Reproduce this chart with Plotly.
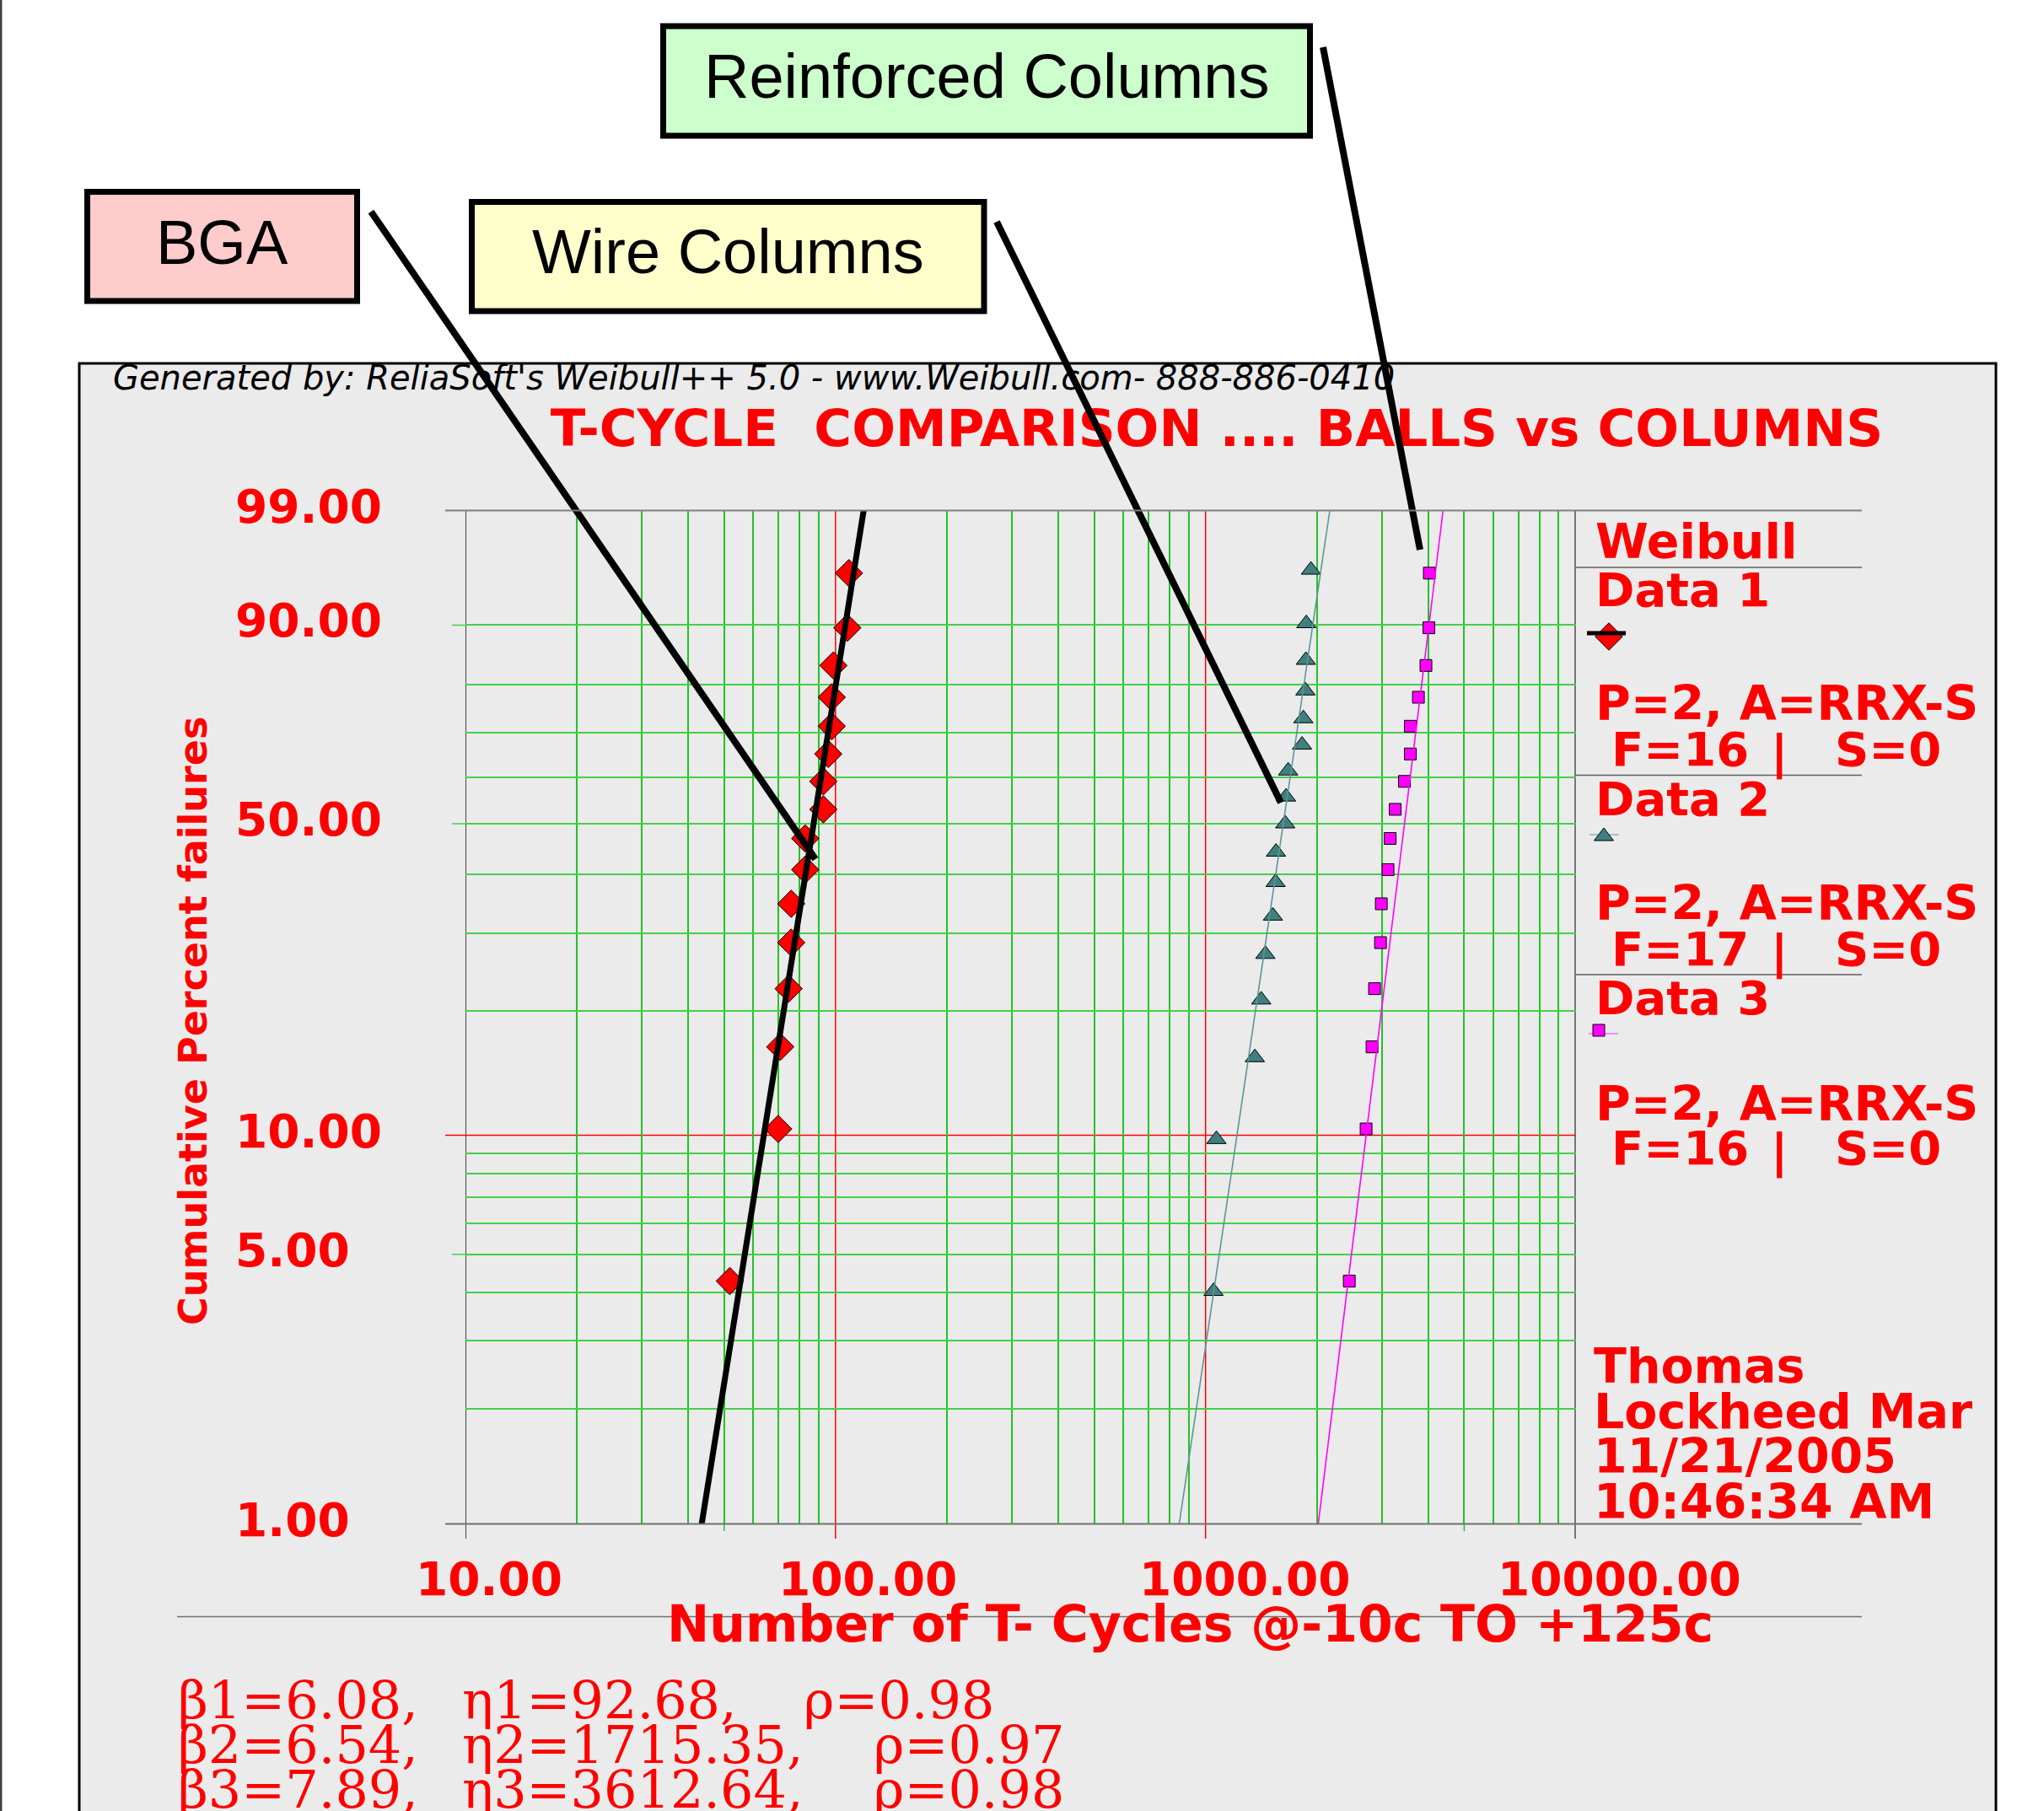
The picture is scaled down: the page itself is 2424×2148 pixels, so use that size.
import numpy as np
import plotly.graph_objects as go

W, H = 2424, 2148

# ---------------- data ----------------
bga_cycles = [51.8, 70.0, 70.9, 74.7, 75.9, 75.9, 82.8, 82.8, 92.7, 92.7,
              95.6, 97.7, 97.7, 98.7, 107.6, 108.7]
bga_pct = [4.27, 10.37, 16.46, 22.56, 28.66, 34.76, 40.85, 46.95, 53.05, 59.15,
           65.24, 71.34, 77.44, 83.54, 89.63, 95.73]

wire_cycles = [1051, 1070, 1359, 1414, 1451, 1521, 1546, 1550, 1642, 1650,
               1672, 1823, 1838, 1862, 1867, 1872, 1927]
wire_pct = [4.02, 9.77, 15.52, 21.26, 27.01, 32.76, 38.51, 44.25, 50.00, 55.75,
            61.49, 67.24, 72.99, 78.74, 84.48, 90.23, 95.98]

reinf_cycles = [2446, 2716, 2818, 2862, 2970, 2985, 3113, 3155, 3255, 3448,
                3577, 3577, 3760, 3941, 4014, 4025]
reinf_pct = [4.27, 10.37, 16.46, 22.56, 28.66, 34.76, 40.85, 46.95, 53.05, 59.15,
             65.24, 71.34, 77.44, 83.54, 89.63, 95.73]

series_names = ["Data 1", "Data 2", "Data 3"]
betas = [6.08, 6.54, 7.89]
etas = [92.68, 1715.35, 3612.64]
rhos = [0.98, 0.97, 0.98]
n_fail = [16, 17, 16]
n_susp = [0, 0, 0]

y_tick_pct = [99, 90, 50, 10, 5, 1]
y_tick_text = ["99.00", "90.00", "50.00", "10.00", "5.00", "1.00"]
x_tick_vals = [10, 100, 1000, 10000]
x_tick_text = ["10.00", "100.00", "1000.00", "10000.00"]
y_grid_pct = [2, 3, 4, 5, 6, 7, 8, 9, 20, 30, 40, 50, 60, 70, 80, 90]
x_grid_vals = [20, 30, 40, 50, 60, 70, 80, 90,
               200, 300, 400, 500, 600, 700, 800, 900,
               2000, 3000, 4000, 5000, 6000, 7000, 8000, 9000]
callout_labels = ["BGA", "Wire Columns", "Reinforced Columns"]
author_lines = ["Thomas", "Lockheed Mar", "11/21/2005", "10:46:34 AM"]


def wt(p):
    p = np.asarray(p, dtype=float) / 100.0
    return np.log(-np.log(1.0 - p))


def fit_x(beta, eta, pct):
    p = np.asarray(pct, dtype=float) / 100.0
    return eta * (-np.log(1.0 - p)) ** (1.0 / beta)


RED = "#ff0000"
GRID_V = "#22c422"
GRID_H = "#44d044"
TEAL = "#407f7f"
TEAL_L = "#5c9696"
MAG = "#ff00ff"

fig = go.Figure()

# ---------------- data traces ----------------
fig.add_trace(go.Scatter(x=bga_cycles, y=wt(bga_pct), mode="markers",
                         marker=dict(symbol="diamond", size=25, color=RED,
                                     line=dict(color="black", width=1)),
                         cliponaxis=False))
fig.add_trace(go.Scatter(x=wire_cycles, y=wt(wire_pct), mode="markers",
                         marker=dict(symbol="triangle-up", size=20, color=TEAL,
                                     line=dict(color="black", width=1)),
                         cliponaxis=False))
fig.add_trace(go.Scatter(x=reinf_cycles, y=wt(reinf_pct), mode="markers",
                         marker=dict(symbol="square", size=14, color=MAG,
                                     line=dict(color="black", width=1)),
                         cliponaxis=False))

ends = [1, 99]
fit_styles = [dict(color="black", width=7), dict(color=TEAL_L, width=1.6),
              dict(color=MAG, width=1.6)]
for b, e, st in zip(betas, etas, fit_styles):
    fig.add_trace(go.Scatter(x=fit_x(b, e, ends), y=wt(ends), mode="lines",
                             line=st))

# ---------------- pixel overlay traces (text / callouts / legend symbols) ----------------
PX = dict(xaxis="x2", yaxis="y2", cliponaxis=False)
fig.add_trace(go.Scatter(x=[134], y=[452], mode="text",
                         text=["Generated by: ReliaSoft's Weibull++ 5.0 - www.Weibull.com- 888-886-0410"],
                         textposition="middle right",
                         textfont=dict(family="DejaVu Sans", size=40, color="black",
                                       style="italic"), **PX))
fig.add_trace(go.Scatter(x=[1443], y=[514], mode="text",
                         text=["T-CYCLE\u00a0\u00a0COMPARISON .... BALLS vs COLUMNS"],
                         textposition="middle center",
                         textfont=dict(family="DejaVu Sans", size=61, color=RED,
                                       weight="bold"), **PX))

# legend symbols
fig.add_trace(go.Scatter(x=[1908], y=[755], mode="markers",
                         marker=dict(symbol="diamond", size=25, color=RED,
                                     line=dict(color="black", width=1)), **PX))
fig.add_trace(go.Scatter(x=[1882, 1928], y=[751, 751], mode="lines",
                         line=dict(color="black", width=5), **PX))
fig.add_trace(go.Scatter(x=[1885, 1920], y=[990, 990], mode="lines",
                         line=dict(color="#8fb3b3", width=1.5), **PX))
fig.add_trace(go.Scatter(x=[1902], y=[992], mode="markers",
                         marker=dict(symbol="triangle-up", size=20, color=TEAL,
                                     line=dict(color="black", width=1)), **PX))
fig.add_trace(go.Scatter(x=[1884, 1919], y=[1226, 1226], mode="lines",
                         line=dict(color="#ff66ff", width=1.5), **PX))
fig.add_trace(go.Scatter(x=[1896], y=[1222], mode="markers",
                         marker=dict(symbol="square", size=14, color=MAG,
                                     line=dict(color="black", width=1)), **PX))

# callout leader lines
for (x0, y0, x1, y1) in [(440, 251, 967, 1019), (1182, 263, 1519, 952), (1569, 56, 1684, 652)]:
    fig.add_trace(go.Scatter(x=[x0, x1], y=[y0, y1], mode="lines",
                             line=dict(color="black", width=8), **PX))


# ---------------- helpers ----------------
def px_x(x):
    return x / W


def px_y(y):
    return 1 - y / H


shapes = []


def pline(x0, y0, x1, y1, color, width, layer="above"):
    shapes.append(dict(type="line", xref="paper", yref="paper",
                       x0=px_x(x0), y0=px_y(y0), x1=px_x(x1), y1=px_y(y1),
                       line=dict(color=color, width=width), layer=layer))


# outer frame
shapes.append(dict(type="rect", xref="paper", yref="paper",
                   x0=px_x(94), y0=px_y(2170), x1=px_x(2367), y1=px_y(431),
                   fillcolor="#ebebeb", line=dict(color="black", width=3),
                   layer="below"))
pline(1.2, 0, 1.2, H, "#404040", 2.5)

# borders of grid / legend panel
pline(528, 605.5, 2208, 605.5, "#808080", 2)
pline(528, 1807.5, 2208, 1807.5, "#707070", 2)
for yy in [673, 919.5, 1156]:
    pline(1868.5, yy, 2208, yy, "#606060", 1.5)
pline(210, 1917.5, 2208, 1917.5, "#707070", 1.5)

# vertical axis lines / special gridlines (data x, paper y)
for xv, col, w in [(10, "#404040", 2), (10000, "black", 2), (100, RED, 1.5), (1000, RED, 1.5)]:
    shapes.append(dict(type="line", xref="x", yref="paper", x0=xv, x1=xv,
                       y0=px_y(1825), y1=px_y(605.5), line=dict(color=col, width=w),
                       layer="between"))
for xv in [50, 5000]:
    shapes.append(dict(type="line", xref="x", yref="paper", x0=xv, x1=xv,
                       y0=px_y(1816), y1=px_y(1807.5), line=dict(color=GRID_V, width=1.5),
                       layer="between"))
# red 10 % line
shapes.append(dict(type="line", xref="paper", yref="y", x0=px_x(528), x1=px_x(1868.5),
                   y0=float(wt(10)), y1=float(wt(10)), line=dict(color=RED, width=1.5),
                   layer="between"))
for pv in [90, 50, 5]:
    shapes.append(dict(type="line", xref="paper", yref="y", x0=px_x(536), x1=px_x(552),
                       y0=float(wt(pv)), y1=float(wt(pv)), line=dict(color=GRID_H, width=1.5),
                       layer="between"))

# callout boxes
boxes = [((103.5, 227.5, 423.5, 357), "#ffcccc"),
         ((559.5, 239.5, 1167, 369), "#ffffcc"),
         ((786.5, 31, 1553.5, 161), "#ccffcc")]
for (x0, y0, x1, y1), fc in boxes:
    shapes.append(dict(type="rect", xref="paper", yref="paper",
                       x0=px_x(x0), y0=px_y(y1), x1=px_x(x1), y1=px_y(y0),
                       fillcolor=fc, line=dict(color="black", width=7), layer="above"))

# ---------------- annotations ----------------
anns = []


def A(text, x, y, size, xanchor="left", family="DejaVu Sans", weight="bold",
      color=RED, xref="paper", yref="paper", **kw):
    if xref == "paper":
        x = px_x(x)
    if yref == "paper":
        y = px_y(y)
    anns.append(dict(text=text, x=x, y=y, xref=xref, yref=yref, xanchor=xanchor,
                     yanchor="middle", showarrow=False, borderpad=0,
                     font=dict(family=family, size=size, color=color, weight=weight),
                     **kw))


# y tick labels (left aligned)
for pv, tt in zip(y_tick_pct, y_tick_text):
    A(tt, 278, float(wt(pv)), 55, yref="y", yshift=5)
# x tick labels
for xv, tt, sh in zip(x_tick_vals, x_tick_text, [27.5, 38.5, 46.5, 51.5]):
    A(tt, float(np.log10(xv)), 1873, 55, xanchor="center", xref="x", xshift=sh)

A("Number of T- Cycles @-10c TO +125c", 1411, 1926, 60, xanchor="center")
A("Cumulative Percent failures", 229, 1211, 46, xanchor="center", textangle=-90)

# legend panel text
A("Weibull", 1891, 642, 57)
leg_rows = [(700, 834, 888), (947, 1071, 1125), (1183, 1309, 1361)]
for name, nf, ns, (yd, yp, yf) in zip(series_names, n_fail, n_susp, leg_rows):
    A(name, 1891, yd, 56)
    A("P=2, A=RRX-S", 1891, yp, 57)
    A("F=%d" % nf, 1910, yf, 56)
    A("|", 2110, yf + 4, 56, xanchor="center")
    A("S=%d" % ns, 2175, yf, 56)

for i, line in enumerate(author_lines):
    A(line, 1889, 1620 + i * 53.7, 57)

# parameter lines (beta / eta / rho blocks placed as in the picture)
rho_x = [952, 1035, 1035]
for i, (b, e, r) in enumerate(zip(betas, etas, rhos)):
    yy = 2016 + i * 53
    A("\u03b2%d=%.2f," % (i + 1, b), 210, yy, 62, family="DejaVu Serif", weight="normal")
    A("\u03b7%d=%.2f," % (i + 1, e), 547, yy, 62, family="DejaVu Serif", weight="normal")
    A("\u03c1=%.2f" % r, rho_x[i], yy, 62, family="DejaVu Serif", weight="normal")

# callout box labels
for lab, (cx, cy) in zip(callout_labels, [(263.5, 287), (863.5, 299), (1170, 90)]):
    A(lab, cx, cy, 74, xanchor="center", family="Liberation Sans", weight="normal",
      color="black")

fig.update_layout(
    width=W, height=H,
    margin=dict(l=0, r=0, t=0, b=0),
    paper_bgcolor="white",
    plot_bgcolor="rgba(0,0,0,0)",
    showlegend=False,
    xaxis=dict(type="log", range=[1, 4], domain=[552 / W, 1868.5 / W],
               tickvals=x_grid_vals, showticklabels=False, ticks="",
               showgrid=True, gridcolor=GRID_V, gridwidth=1.5,
               showline=False, zeroline=False, anchor="y"),
    yaxis=dict(range=[float(wt(1)), float(wt(99))],
               domain=[1 - 1807.5 / H, 1 - 605.5 / H],
               tickvals=[float(v) for v in wt(y_grid_pct)], showticklabels=False, ticks="",
               showgrid=True, gridcolor=GRID_H, gridwidth=1.5,
               showline=False, zeroline=False, anchor="x"),
    xaxis2=dict(domain=[0, 1], range=[0, W], visible=False, anchor="y2", fixedrange=True),
    yaxis2=dict(domain=[0, 1], range=[H, 0], visible=False, anchor="x2", fixedrange=True),
    shapes=shapes,
    annotations=anns,
)

fig.write_html("out.html", include_plotlyjs=True, config={"displayModeBar": False},
               post_script="document.body.style.margin='0px';document.body.style.overflow='hidden';")
